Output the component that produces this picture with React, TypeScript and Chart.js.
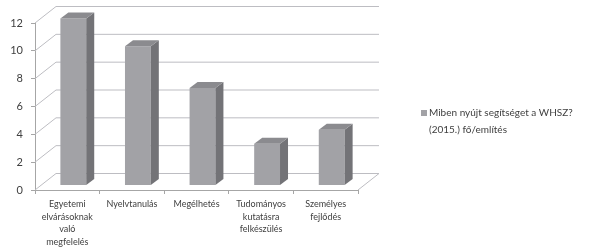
import React, { useEffect, useRef } from "react";
import { Chart, registerables } from "chart.js";

Chart.register(...registerables);

const categories: string[][] = [
  ["Egyetemi", "elvárásoknak", "való", "megfelelés"],
  ["Nyelvtanulás"],
  ["Megélhetés"],
  ["Tudományos", "kutatásra", "felkészülés"],
  ["Személyes", "fejlődés"],
];
const values: number[] = [12, 10, 7, 3, 4];
const yMin = 0;
const yMax = 12;
const yStep = 2;
const legendLines: string[] = ["Miben nyújt segítséget a WHSZ?", "(2015.) fő/említés"];

const FRONT = "#a2a2a6";
const SIDE = "#737377";
const TOP = "#8b8b8f";
const GRID = "#bdbdc2";
const AXIS = "#a6a6a6";
const TEXT = "#404040";
const FONT = "Lato";

// oblique depth of the plot box and of the bars
const WALL_DX = 21;
const WALL_DY = -16.5;
const BAR_OFF_X = 6;
const BAR_OFF_Y = -4.5;
const BAR_DX = 8;
const BAR_DY = -6;

const threeD = {
  id: "threeD",
  beforeDatasetsDraw(chart: any) {
    const { ctx, chartArea, scales } = chart;
    const y = scales.y;
    ctx.save();
    ctx.strokeStyle = GRID;
    ctx.lineWidth = 1;
    for (let v = yMin; v <= yMax; v += yStep) {
      const py = y.getPixelForValue(v);
      ctx.beginPath();
      ctx.moveTo(chartArea.left, py);
      ctx.lineTo(chartArea.left + WALL_DX, py + WALL_DY);
      ctx.lineTo(chartArea.right + WALL_DX, py + WALL_DY);
      ctx.stroke();
    }
    const p0 = y.getPixelForValue(yMin);
    ctx.beginPath();
    ctx.moveTo(chartArea.right, p0);
    ctx.lineTo(chartArea.right + WALL_DX, p0 + WALL_DY);
    ctx.stroke();
    ctx.restore();
    ctx.save();
    ctx.translate(BAR_OFF_X, BAR_OFF_Y);
  },
  afterDatasetsDraw(chart: any) {
    const { ctx } = chart;
    const meta = chart.getDatasetMeta(0);
    meta.data.forEach((el: any) => {
      const { x, y, base, width } = el.getProps(["x", "y", "base", "width"], true);
      const l = x - width / 2;
      const r = x + width / 2;
      ctx.fillStyle = SIDE;
      ctx.beginPath();
      ctx.moveTo(r, y);
      ctx.lineTo(r + BAR_DX, y + BAR_DY);
      ctx.lineTo(r + BAR_DX, base + BAR_DY);
      ctx.lineTo(r, base);
      ctx.closePath();
      ctx.fill();
      ctx.fillStyle = TOP;
      ctx.beginPath();
      ctx.moveTo(l, y);
      ctx.lineTo(l + BAR_DX, y + BAR_DY);
      ctx.lineTo(r + BAR_DX, y + BAR_DY);
      ctx.lineTo(r, y);
      ctx.closePath();
      ctx.fill();
    });
    ctx.restore();
  },
  afterDraw(chart: any) {
    const { ctx } = chart;
    ctx.save();
    ctx.fillStyle = FRONT;
    ctx.fillRect(421, 110, 6, 6);
    ctx.fillStyle = TEXT;
    ctx.font = `10px ${FONT}`;
    ctx.textBaseline = "middle";
    ctx.textAlign = "left";
    legendLines.forEach((t, i) => ctx.fillText(t, 429, 113 + i * 17));
    ctx.restore();
  },
};

export default function App() {
  const ref = useRef<HTMLCanvasElement>(null);
  useEffect(() => {
    if (!ref.current) return;
    const chart = new Chart(ref.current, {
      type: "bar",
      data: {
        labels: categories,
        datasets: [
          {
            label: legendLines.join(" "),
            data: values,
            backgroundColor: FRONT,
            borderWidth: 0,
            categoryPercentage: 1,
            barPercentage: 0.4,
            clip: false as any,
          },
        ],
      },
      options: {
        animation: false,
        responsive: false,
        events: [],
        layout: { padding: { top: 23, right: 232, left: 0, bottom: 0 } },
        plugins: { legend: { display: false }, tooltip: { enabled: false } },
        scales: {
          x: {
            grid: { display: true, drawOnChartArea: false, tickLength: 4, color: AXIS },
            border: { display: true, color: AXIS },
            ticks: {
              color: TEXT,
              font: { family: FONT, size: 9, lineHeight: 1.4 },
              padding: 4,
              maxRotation: 0,
              autoSkip: false,
            },
            afterFit: (s: any) => {
              s.height = 58;
            },
          },
          y: {
            min: yMin,
            max: yMax,
            ticks: { stepSize: yStep, color: TEXT, font: { family: FONT, size: 11 }, padding: 8 },
            grid: { display: true, drawOnChartArea: false, tickLength: 4, color: AXIS },
            border: { display: true, color: AXIS },
            afterFit: (s: any) => {
              s.width = 35;
            },
          },
        },
      },
      plugins: [threeD],
    });
    return () => chart.destroy();
  }, []);
  return (
    <div style={{ position: "absolute", left: 0, top: 0, width: 590, height: 248, background: "#fff" }}>
      <canvas ref={ref} width={590} height={248} style={{ display: "block" }} />
    </div>
  );
}
